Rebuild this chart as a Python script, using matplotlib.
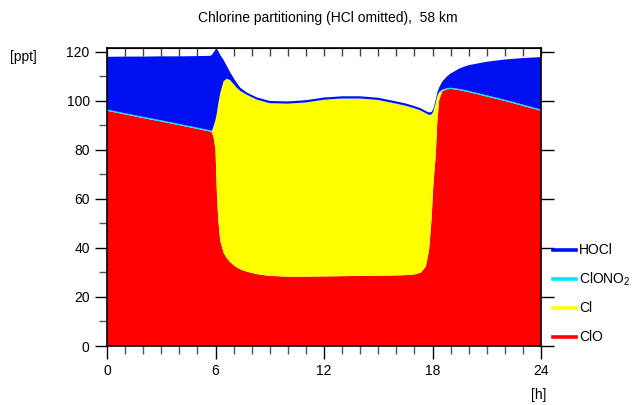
import matplotlib
matplotlib.use("Agg")
import matplotlib.pyplot as plt
from matplotlib.lines import Line2D
from matplotlib.ticker import MultipleLocator

plt.rcParams["font.family"] = ["Liberation Sans", "DejaVu Sans"]
plt.rcParams["mathtext.fontset"] = "custom"
plt.rcParams["mathtext.rm"] = "Liberation Sans"
plt.rcParams["mathtext.it"] = "Liberation Sans"

# Local time [h]
hours = [0, 1, 2, 3, 4, 5, 5.7, 5.8, 5.9, 6.0, 6.08, 6.15, 6.26, 6.45, 6.63, 6.82,
         7.0, 7.19, 7.37, 7.74, 8.3, 9, 10, 11, 12, 13, 14, 15, 16, 16.5, 17,
         17.35, 17.63, 17.81, 17.95, 18.05, 18.18, 18.27, 18.37, 18.55, 18.8,
         19, 19.5, 20, 21, 22, 23, 24]

# Mixing ratios [ppt]
clo = [96.0, 94.5, 93.0, 91.6, 90.1, 88.6, 87.5, 87.2, 85.0, 80.0, 62.0, 52.0,
       43.0, 38.0, 35.8, 34.2, 33.0, 32.0, 31.3, 30.3, 29.3, 28.6, 28.3, 28.3,
       28.4, 28.5, 28.6, 28.7, 28.8, 28.9, 29.2, 29.9, 32.4, 39.0, 52.0, 66.0,
       78.0, 92.0, 100.4, 104.0, 104.7, 104.9, 104.4, 103.6, 101.8, 100.0,
       98.0, 96.0]
cl = [0, 0, 0, 0, 0, 0, 0, 0.1, 4.5, 12.0, 33.0, 46.5, 60.0, 69.9, 73.2, 74.1,
      73.8, 73.2, 72.7, 72.1, 71.1, 70.4, 70.5, 71.0, 72.0, 72.4, 72.3, 71.6,
      70.0, 69.1, 67.7, 66.1, 62.5, 55.2, 42.3, 29.5, 21.0, 9.8, 2.9, 0.2, 0,
      0, 0, 0, 0, 0, 0, 0]
clono2 = [0.5, 0.5, 0.5, 0.5, 0.5, 0.5, 0.5, 0.5, 0.4, 0.3, 0.2, 0.2, 0.2, 0.2,
          0.1, 0.1, 0.1, 0.1, 0.1, 0.1, 0.1, 0.1, 0.1, 0.1, 0.1, 0.1, 0.1, 0.1,
          0.1, 0.1, 0.1, 0.1, 0.1, 0.1, 0.2, 0.3, 0.4, 0.4, 0.4, 0.5, 0.5, 0.5,
          0.5, 0.5, 0.5, 0.5, 0.5, 0.5]
hocl = [21.5, 23.1, 24.6, 26.1, 27.6, 29.2, 30.4, 31.0, 29.9, 28.7, 25.9, 21.7,
        15.6, 8.6, 5.1, 3.2, 2.5, 1.9, 1.3, 0.9, 0.9, 0.9, 0.9, 0.9, 0.9, 0.9,
        0.9, 0.9, 0.9, 0.9, 0.9, 0.9, 0.9, 1.0, 1.0, 1.0, 1.1, 1.3, 1.8, 3.3,
        4.8, 5.8, 8.4, 10.5, 13.7, 16.4, 19.0, 21.4]

species = ["ClO", "Cl", "ClONO$_2$", "HOCl"]
colors = ["#ff0000", "#ffff00", "#00e8ff", "#0010f0"]

fig = plt.figure(figsize=(6.35, 4.05), dpi=100)
ax = fig.add_axes([107 / 635, 59 / 405, 434 / 635, 298 / 405])

ax.stackplot(hours, clo, cl, clono2, hocl, colors=colors, linewidth=0)

ax.set_xlim(0, 24)
ax.set_ylim(0, 121.6)

ax.xaxis.set_major_locator(MultipleLocator(6))
ax.xaxis.set_minor_locator(MultipleLocator(1))
ax.yaxis.set_major_locator(MultipleLocator(20))
ax.yaxis.set_minor_locator(MultipleLocator(10))
ax.tick_params(axis="both", which="major", direction="out", length=9,
               width=1, labelsize=10, color="black")
ax.tick_params(axis="both", which="minor", direction="out", length=6,
               width=1, color="#555555")
ax.tick_params(axis="y", right=True, labelright=False)
ax.tick_params(axis="x", pad=4)

# inward hour ticks along the top edge
top = ax.secondary_xaxis("top")
top.xaxis.set_major_locator(MultipleLocator(1))
top.tick_params(direction="in", length=6, width=1, labeltop=False,
                color="#444444")

for sp in ax.spines.values():
    sp.set_linewidth(1.2)

fig.text(328 / 635, 1 - 18 / 405, "Chlorine partitioning (HCl omitted),  58 km",
         ha="center", va="center", fontsize=10)
fig.text(10 / 635, 1 - 57 / 405, "[ppt]", ha="left", va="center", fontsize=10)
fig.text(546 / 635, 1 - 395 / 405, "[h]", ha="right", va="center", fontsize=10)

# legend to the right of the plot, top entry = top layer
legend_y = [250, 279, 308, 337]
for name, col, ypix in zip(species[::-1], colors[::-1], legend_y):
    yf = 1 - ypix / 405
    fig.add_artist(Line2D([553 / 635, 576 / 635], [yf, yf], color=col,
                          linewidth=2.6, transform=fig.transFigure))
    fig.text(579 / 635, yf, name, ha="left", va="center", fontsize=10)

fig.savefig("out.png", dpi=100)
